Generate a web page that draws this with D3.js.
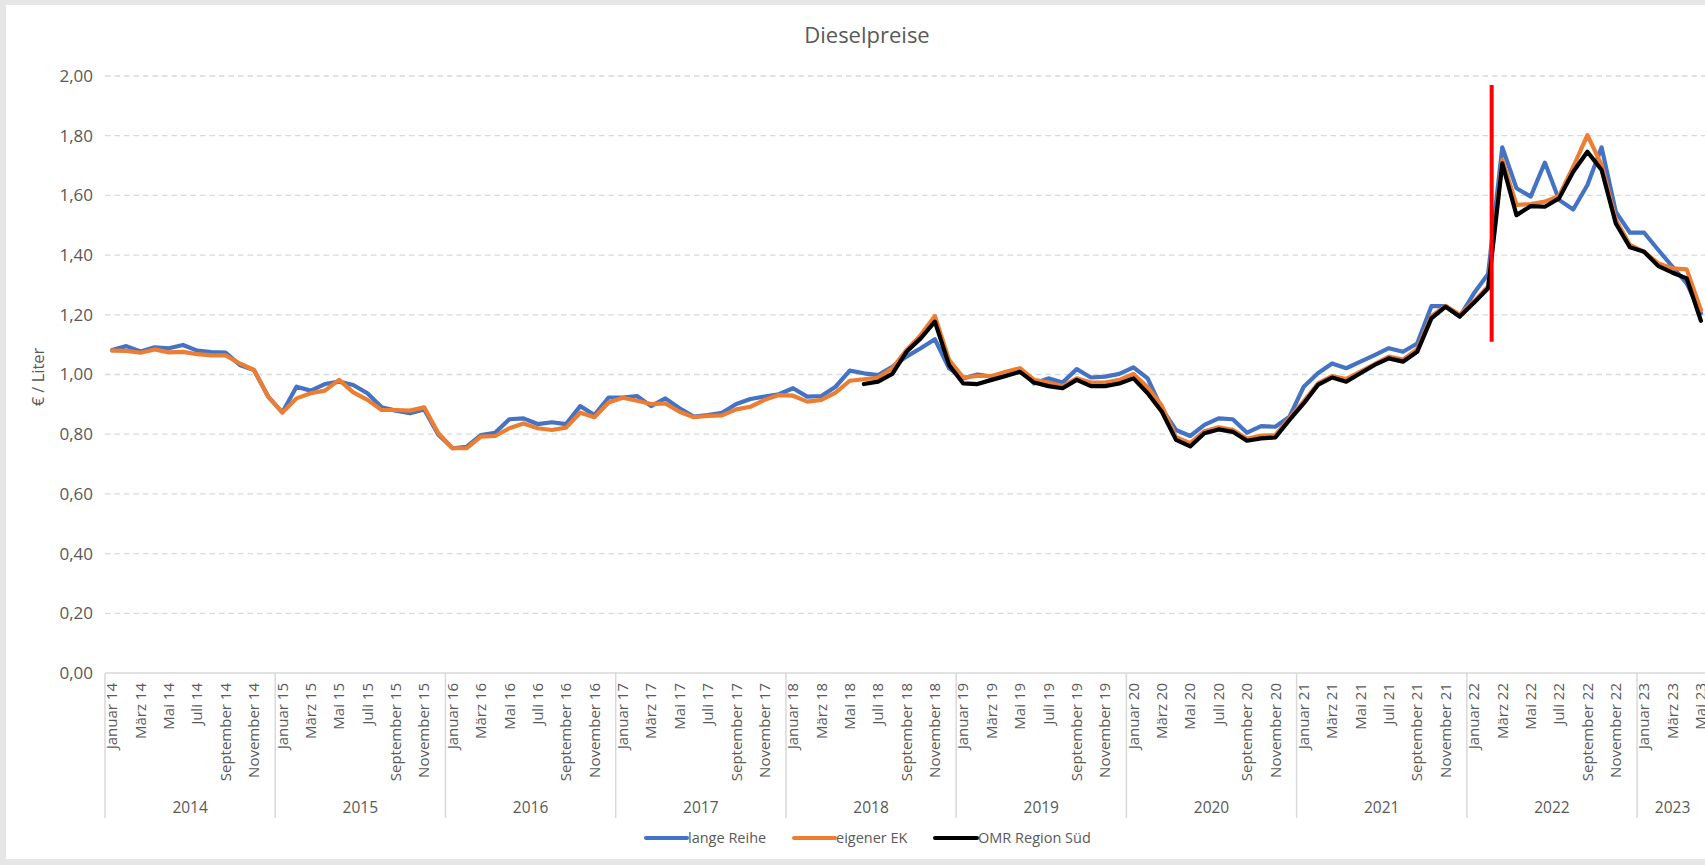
<!DOCTYPE html>
<html><head><meta charset="utf-8">
<script src="https://cdn.jsdelivr.net/npm/d3@7"></script>
<style>
html,body{margin:0;padding:0;background:#e6e6e6;overflow:hidden}
svg{display:block}
text{font-family:"Open Sans","DejaVu Sans",sans-serif;fill:#595959}
</style>
</head><body>
<svg id="chart" width="1705" height="865"></svg>
<script>
// ---------- data ----------
const chartTitle = "Dieselpreise";
const yAxisTitle = "€ / Liter";
const monthNames = ["Januar","Februar","März","April","Mai","Juni","Juli","August","September","Oktober","November","Dezember"];
const years = [2014,2015,2016,2017,2018,2019,2020,2021,2022,2023];
const monthsInLastYear = 5; // data ends Mai 23
const yTicks = [0,0.2,0.4,0.6,0.8,1.0,1.2,1.4,1.6,1.8,2.0];
const seriesNames = ["lange Reihe","eigener EK","OMR Region Süd"];

const langeReihe = [
  1.082,1.095,1.077,1.091,1.088,1.099,1.080,1.075,1.073,1.032,1.015,0.926, // 2014
  0.873,0.959,0.946,0.968,0.976,0.965,0.937,0.890,0.879,0.870,0.883,0.798, // 2015
  0.753,0.758,0.797,0.805,0.850,0.853,0.834,0.840,0.834,0.894,0.864,0.923, // 2016
  0.923,0.928,0.894,0.920,0.887,0.859,0.864,0.872,0.901,0.918,0.926,0.934, // 2017
  0.954,0.926,0.928,0.959,1.013,1.004,0.998,1.026,1.060,1.088,1.118,1.021, // 2018
  0.987,1.000,0.993,1.004,1.018,0.970,0.987,0.973,1.018,0.990,0.993,1.002, // 2019
  1.024,0.987,0.885,0.814,0.794,0.831,0.853,0.850,0.805,0.827,0.825,0.859, // 2020
  0.959,1.004,1.037,1.021,1.043,1.065,1.088,1.076,1.104,1.229,1.229,1.194, // 2021
  1.272,1.337,1.761,1.624,1.596,1.710,1.585,1.553,1.635,1.761,1.545,1.475, // 2022
  1.475,1.417,1.361,1.305,1.205                                            // 2023
];
const eigenerEK = [
  1.080,1.079,1.073,1.084,1.074,1.076,1.068,1.064,1.064,1.037,1.015,0.926,
  0.873,0.920,0.937,0.946,0.982,0.940,0.915,0.881,0.881,0.879,0.890,0.803,
  0.753,0.753,0.792,0.794,0.820,0.836,0.820,0.814,0.822,0.872,0.857,0.906,
  0.922,0.912,0.901,0.903,0.875,0.857,0.861,0.863,0.883,0.892,0.915,0.931,
  0.929,0.909,0.915,0.939,0.979,0.984,0.990,1.021,1.082,1.132,1.196,1.049,
  0.990,0.995,0.995,1.009,1.021,0.982,0.973,0.961,0.987,0.973,0.973,0.982,
  1.002,0.957,0.895,0.790,0.770,0.810,0.823,0.815,0.785,0.795,0.797,0.855,
  0.910,0.970,0.995,0.985,1.010,1.035,1.060,1.050,1.085,1.195,1.230,1.200,
  1.245,1.295,1.719,1.568,1.571,1.579,1.598,1.696,1.802,1.702,1.518,1.434,
  1.411,1.372,1.356,1.352,1.216
];
const omrSued = [
  null,null,null,null,null,null,null,null,null,null,null,null,
  null,null,null,null,null,null,null,null,null,null,null,null,
  null,null,null,null,null,null,null,null,null,null,null,null,
  null,null,null,null,null,null,null,null,null,null,null,null,
  null,null,null,null,null,0.968,0.976,1.002,1.076,1.121,1.177,1.032,
  0.970,0.968,0.982,0.995,1.009,0.973,0.961,0.954,0.982,0.961,0.961,0.970,
  0.987,0.937,0.875,0.781,0.759,0.803,0.816,0.808,0.778,0.786,0.789,0.848,
  0.903,0.965,0.990,0.976,1.004,1.032,1.054,1.043,1.076,1.188,1.227,1.194,
  1.240,1.289,1.707,1.534,1.564,1.562,1.590,1.679,1.746,1.685,1.506,1.426,
  1.411,1.363,1.341,1.322,1.180
];
// event marker (red line): late Februar 22
const eventMonth = "Februar 22";
const eventFraction = 0.75;
const eventRange = [1.11, 1.97];

// ---------- build categories ----------
const categories = [];
const catYear = [];
const catMonthIdx = [];
years.forEach((yr, yi) => {
  const n = yi === years.length - 1 ? monthsInLastYear : 12;
  for (let m = 0; m < n; m++) {
    categories.push(monthNames[m] + " " + String(yr).slice(2));
    catYear.push(yr);
    catMonthIdx.push(m);
  }
});

// ---------- layout ----------
const W = 1705, H = 865;
const plot = {left: 105, right: 1708, top: 76, bottom: 673};
const colors = ["#4472C4", "#ED7D31", "#000000"];
const gridColor = "#d9d9d9";

const svg = d3.select("#chart");
svg.append("rect").attr("x",0).attr("y",0).attr("width",W).attr("height",H).attr("fill","#e6e6e6");
svg.append("rect").attr("x",6).attr("y",5).attr("width",W-6).attr("height",854).attr("fill","#ffffff");

const x = d3.scaleBand().domain(categories).range([plot.left, plot.right]).paddingInner(0).paddingOuter(0);
const bw = x.bandwidth();
const xc = c => x(c) + bw/2;
const y = d3.scaleLinear().domain([0, 2]).range([plot.bottom, plot.top]);
const fmt = v => d3.format(".2f")(v).replace(".", ",");

// title
svg.append("text").attr("x", 867).attr("y", 43).attr("text-anchor","middle")
  .style("font-size","22px").text(chartTitle);

// gridlines
svg.append("g").selectAll("line").data(yTicks.filter(t => t > 0)).join("line")
  .attr("x1", plot.left).attr("x2", plot.right)
  .attr("y1", d => y(d)).attr("y2", d => y(d))
  .attr("stroke", gridColor).attr("stroke-width", 1.3).attr("stroke-dasharray","5.5,4");

// y axis labels
svg.append("g").selectAll("text").data(yTicks).join("text")
  .attr("x", 93).attr("y", d => y(d)).attr("dy","0.35em").attr("text-anchor","end")
  .style("font-size","17px").text(fmt);

// y axis title
svg.append("text").attr("transform","translate(44,377) rotate(-90)")
  .attr("text-anchor","middle").style("font-size","16.5px").text(yAxisTitle);

// x axis line
svg.append("line").attr("x1", plot.left).attr("x2", plot.right)
  .attr("y1", plot.bottom).attr("y2", plot.bottom)
  .attr("stroke", gridColor).attr("stroke-width", 1.5);

// year separators
const yearStarts = categories.filter((c,i) => catMonthIdx[i] === 0);
svg.append("g").selectAll("line").data(yearStarts).join("line")
  .attr("x1", d => x(d)).attr("x2", d => x(d))
  .attr("y1", plot.bottom).attr("y2", 818)
  .attr("stroke", gridColor).attr("stroke-width", 1.5);

// month labels (every other month)
const labelled = categories.filter((c,i) => catMonthIdx[i] % 2 === 0);
svg.append("g").selectAll("text").data(labelled).join("text")
  .attr("transform", d => `translate(${xc(d)},${683}) rotate(-90)`)
  .attr("dy","0.35em").attr("text-anchor","end")
  .style("font-size","15px").text(d => d);

// year labels
svg.append("g").selectAll("text").data(years).join("text")
  .attr("x", yr => {
    const cs = categories.filter((c,i) => catYear[i] === yr);
    return (x(cs[0]) + x(cs[cs.length-1]) + bw) / 2;
  })
  .attr("y", 808).attr("dy","0.35em").attr("text-anchor","middle")
  .style("font-size","15.5px").text(d => d);

// lines
const seriesData = [langeReihe, eigenerEK, omrSued];
const lineGen = d3.line()
  .defined(d => d.v !== null)
  .x(d => xc(d.c)).y(d => y(d.v));
seriesData.forEach((arr, si) => {
  svg.append("path")
    .datum(categories.map((c,i) => ({c, v: arr[i] === undefined ? null : arr[i]})))
    .attr("d", lineGen)
    .attr("fill","none").attr("stroke", colors[si]).attr("stroke-width", 4.2)
    .attr("stroke-linejoin","round").attr("stroke-linecap","round");
});

// event marker
const ex = x(eventMonth) + eventFraction * bw;
svg.append("line").attr("x1", ex).attr("x2", ex)
  .attr("y1", y(eventRange[0])).attr("y2", y(eventRange[1]))
  .attr("stroke","#ff0000").attr("stroke-width", 4);

// legend
const legendItems = [
  {name: seriesNames[0], color: colors[0], x1: 646, x2: 687},
  {name: seriesNames[1], color: colors[1], x1: 794, x2: 835},
  {name: seriesNames[2], color: colors[2], x1: 935, x2: 977}
];
const lg = svg.append("g");
legendItems.forEach(it => {
  lg.append("line").attr("x1", it.x1).attr("x2", it.x2).attr("y1", 838).attr("y2", 838)
    .attr("stroke", it.color).attr("stroke-width", 4).attr("stroke-linecap","round");
  lg.append("text").attr("x", it.x2 + 1).attr("y", 838).attr("dy","0.35em")
    .style("font-size","14.5px").text(it.name);
});
</script>
</body></html>
